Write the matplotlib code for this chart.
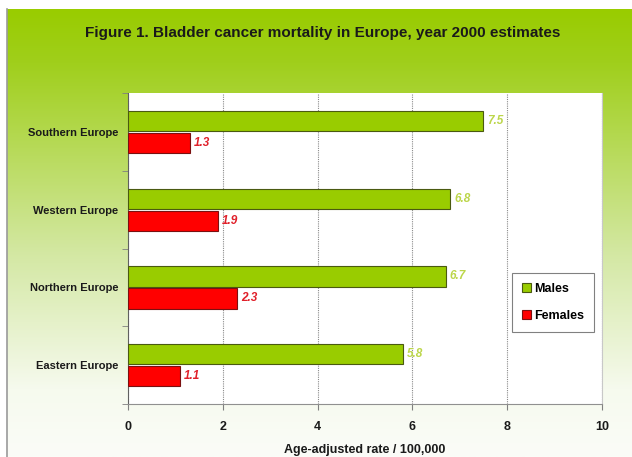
import numpy as np
import matplotlib.pyplot as plt
from matplotlib.colors import LinearSegmentedColormap

plt.rcParams['font.family'] = ['Liberation Sans', 'DejaVu Sans']

# mortality rates per 100,000, top to bottom
regions = ['Southern Europe', 'Western Europe', 'Northern Europe', 'Eastern Europe']
males = [7.5, 6.8, 6.7, 5.8]
females = [1.3, 1.9, 2.3, 1.1]

green = '#99cc00'
red = '#ff0000'

fig = plt.figure(figsize=(6.32, 4.57), dpi=100)

# green background panel fading to white towards the bottom
bg = fig.add_axes([0.011, 0.0, 0.989, 0.980], zorder=-1)
cmap = LinearSegmentedColormap.from_list('bg', [(0.0, green), (0.12, '#a0cf1c'),
                                                 (0.55, '#d4e8a4'), (0.85, '#f6faee'),
                                                 (1.0, '#fbfcf8')])
grad = np.linspace(0, 1, 256).reshape(-1, 1)
bg.imshow(grad, aspect='auto', cmap=cmap, extent=[0, 1, 0, 1], origin='upper')
bg.set_xlim(0, 1)
bg.set_ylim(0, 1)
bg.set_xticks([])
bg.set_yticks([])
for s in ['top', 'right', 'bottom']:
    bg.spines[s].set_visible(False)
bg.spines['left'].set_color('#9a9a9a')
bg.spines['left'].set_linewidth(1.2)

fig.text(0.51, 0.928, 'Figure 1. Bladder cancer mortality in Europe, year 2000 estimates',
         ha='center', va='center', fontsize=11, fontweight='bold', color='#1a1a1a')

ax = fig.add_axes([0.2025, 0.116, 0.75, 0.680])
ax.set_facecolor('white')

y = np.arange(len(regions))
h = 0.26
off = 0.142
ax.barh(y - off, males, height=h, color=green, edgecolor='#4a5a10', linewidth=0.8,
        label='Males', zorder=3)
ax.barh(y + off, females, height=h, color=red, edgecolor='#7a1010', linewidth=0.8,
        label='Females', zorder=3)

for yi, m, f in zip(y, males, females):
    ax.text(m + 0.08, yi - off, f'{m}', va='center', ha='left', fontsize=8.5,
            fontweight='bold', style='italic', color='#bcd64a', zorder=4)
    ax.text(f + 0.08, yi + off, f'{f}', va='center', ha='left', fontsize=8.5,
            fontweight='bold', style='italic', color='#e0202a', zorder=4)

ax.set_xlim(0, 10)
ax.set_ylim(len(regions) - 0.5, -0.5)
ax.set_xticks([0, 2, 4, 6, 8, 10])
ax.set_yticks(y)
ax.set_yticklabels(regions)
ax.set_yticks(np.arange(len(regions) + 1) - 0.5, minor=True)
ax.tick_params(axis='y', which='major', length=0, pad=7, labelsize=8)
ax.tick_params(axis='y', which='minor', length=4, color='#808080', direction='out')
ax.tick_params(axis='x', length=4, color='#808080', pad=8, labelsize=9)
for lbl in ax.get_xticklabels() + ax.get_yticklabels():
    lbl.set_fontweight('bold')
    lbl.set_color('#1a1a1a')

ax.grid(axis='x', color='#8a8a8a', linestyle=(0, (1, 1)), linewidth=0.8, zorder=0)
ax.spines['top'].set_visible(False)
ax.spines['left'].set_color('#606060')
ax.spines['bottom'].set_color('#909090')
ax.spines['right'].set_color('#c8c8c8')

ax.set_xlabel('Age-adjusted rate / 100,000', fontsize=9, fontweight='bold',
              color='#1a1a1a', labelpad=8)

leg = ax.legend(loc='upper left', bbox_to_anchor=(0.81, 0.4226), fancybox=False,
                framealpha=1, edgecolor='#808080', prop={'weight': 'bold', 'size': 9},
                handlelength=0.7, handleheight=0.7, handletextpad=0.3,
                labelspacing=1.2, borderpad=0.8, borderaxespad=0)
leg.get_frame().set_linewidth(0.8)

fig.savefig('out.png', dpi=100)
